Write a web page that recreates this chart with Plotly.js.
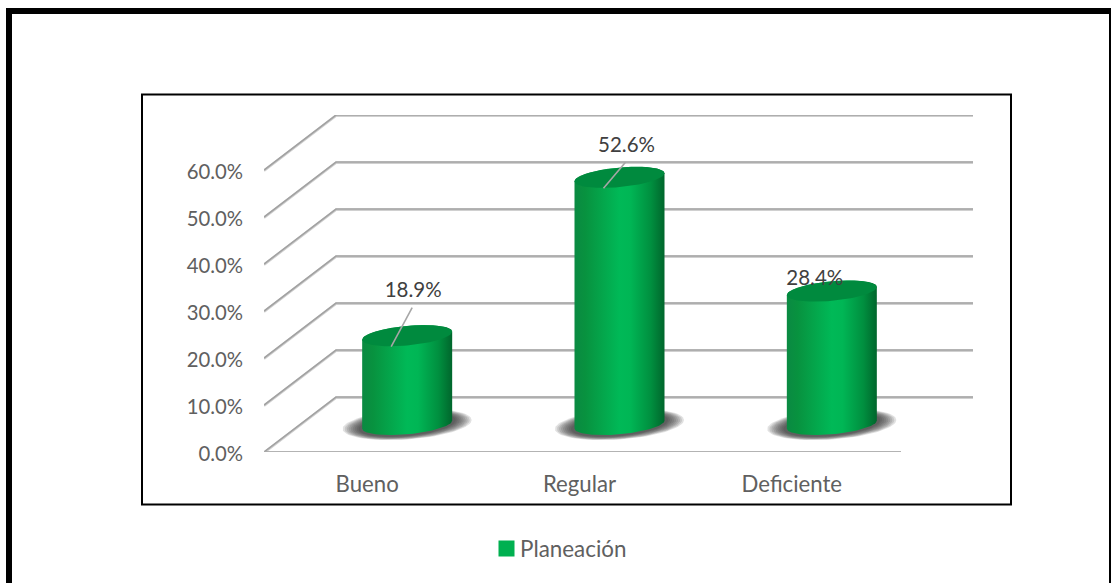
<!DOCTYPE html>
<html>
<head>
<meta charset="utf-8">
<script src="https://cdn.plot.ly/plotly-3.0.1.min.js"></script>
<style>html,body{margin:0;padding:0;background:#fff;overflow:hidden}</style>
</head>
<body>
<div id="chart" style="width:1111px;height:583px"></div>
<script>
// Chart data
const categories = ['Bueno', 'Regular', 'Deficiente'];
const seriesName = 'Planeación';
const values = [18.9, 52.6, 28.4];
const yTicks = [0, 10, 20, 30, 40, 50, 60];
const yTickText = ['0.0%', '10.0%', '20.0%', '30.0%', '40.0%', '50.0%', '60.0%'];

// Hand placement of the data labels relative to each column top, in pixels
const labelShiftX = [6, 7, -17];
const labelShiftY = [44, 30, 11];
const leaderShiftY = [28, 15, 0];
const hasLeader = [true, true, false];

// Plot geometry in pixels
const plotLeft = 264, plotBottom = 452, plotRight = 973, plotTop = 115;
const pxPerCategory = 637 / 3;
const pxPerPercent = 4.7;
const depthPxX = 72, depthPxY = 55;

const W = 1111, H = 583;
const ux = px => px / pxPerCategory;
const uy = px => px / pxPerPercent;
const xMin = -0.5, xMax = xMin + ux(plotRight - plotLeft);
const yMin = 0, yMax = uy(plotBottom - plotTop);
const paperX = px => (px - plotLeft) / (plotRight - plotLeft);
const paperY = py => (plotBottom - py) / (plotBottom - plotTop);

const textColor = '#606060';
const fontFamily = 'Lato, sans-serif';

const traces = [];

// Every frame line is a pale under-stroke with a darker core on top
function frameLine(xs, ys) {
  [{off: -0.8, color: '#d0d0d0', width: 2.4}, {off: 0, color: '#a2a2a2', width: 1.6}].forEach(s => {
    traces.push({
      x: xs, y: ys.map(y => y + uy(s.off)),
      mode: 'lines', line: {color: s.color, width: s.width},
      showlegend: false, hoverinfo: 'skip', cliponaxis: false
    });
  });
}

// Side walls and back wall of the 3D frame
yTicks.forEach(v => {
  frameLine([xMin, xMin + ux(depthPxX), xMax], [v, v + uy(depthPxY), v + uy(depthPxY)]);
});
// Front edge of the floor
frameLine([xMin, xMax - ux(depthPxX)], [0, 0]);

// Skewed ellipse outline around (cx, cy), using pixel radii
function ellipse(cx, cy, a, b, skew, from, to, n) {
  const xs = [], ys = [];
  for (let i = 0; i <= n; i++) {
    const t = from + (to - from) * i / n;
    xs.push(cx + ux(a * Math.cos(t)));
    ys.push(cy + uy(skew * Math.cos(t) + b * Math.sin(t)));
  }
  return {xs, ys};
}

const radiusX = 45, radiusY = 9.8, skew = 4;
const baseX = ux(depthPxX / 2 + 1), baseY = uy(depthPxY / 2);

// Soft ground shadows, built up from nested translucent ellipses
const shadowSteps = 9;
values.forEach((v, i) => {
  for (let s = 0; s < shadowSteps; s++) {
    const k = s / (shadowSteps - 1);
    const e = ellipse(i + baseX, baseY, 64.5 - 16 * k, 15 - 3.5 * k, 4.5, 0, 2 * Math.PI, 72);
    traces.push({
      x: e.xs, y: e.ys, mode: 'lines', line: {width: 0}, fill: 'toself',
      fillcolor: 'rgba(40,40,40,0.14)',
      showlegend: false, hoverinfo: 'skip', cliponaxis: false
    });
  }
});

// Cylinder bodies and lids
values.forEach((v, i) => {
  const cx = i + baseX, top = v + baseY;
  const low = ellipse(cx, baseY, radiusX, radiusY, skew, Math.PI, 2 * Math.PI, 48);
  const up = ellipse(cx, top, radiusX, radiusY, skew, 0, Math.PI, 48);
  traces.push({
    x: low.xs.concat(up.xs), y: low.ys.concat(up.ys),
    mode: 'lines', line: {width: 0}, fill: 'toself',
    fillgradient: {type: 'horizontal', colorscale: [
      [0, '#0a8a42'], [0.12, '#08923f'], [0.5, '#00b957'], [0.62, '#00b655'], [0.85, '#008f3f'], [1, '#00662c']
    ]},
    showlegend: false, hoverinfo: 'skip', cliponaxis: false
  });
  const lid = ellipse(cx, top, radiusX, radiusY, skew, 0, 2 * Math.PI, 72);
  traces.push({
    x: lid.xs, y: lid.ys, mode: 'lines', line: {width: 0}, fill: 'toself',
    fillcolor: '#008a3e',
    showlegend: false, hoverinfo: 'skip', cliponaxis: false
  });
});

// Leader lines
values.forEach((v, i) => {
  if (!hasLeader[i]) return;
  const cx = i + baseX, top = v + baseY;
  traces.push({
    x: [cx + ux(-16), cx + ux(labelShiftX[i] - 1)],
    y: [top - uy(11), top + uy(leaderShiftY[i])],
    mode: 'lines', line: {color: '#a6a6a6', width: 1.6},
    showlegend: false, hoverinfo: 'skip', cliponaxis: false
  });
});

// Data labels
traces.push({
  x: values.map((v, i) => i + baseX + ux(labelShiftX[i])),
  y: values.map((v, i) => v + baseY + uy(labelShiftY[i])),
  text: values.map(v => v.toFixed(1) + '%'),
  mode: 'text', textposition: 'middle center',
  textfont: {family: fontFamily, size: 20.5, color: '#404040'},
  showlegend: false, hoverinfo: 'skip', cliponaxis: false
});

// Series entry for the legend
traces.push({
  x: [null], y: [null], name: seriesName, mode: 'markers',
  marker: {symbol: 'square', size: 16, color: '#00b050'},
  hoverinfo: 'skip'
});

const layout = {
  width: W, height: H,
  paper_bgcolor: '#fff', plot_bgcolor: 'rgba(0,0,0,0)',
  margin: {l: plotLeft, r: W - plotRight, t: plotTop, b: H - plotBottom, pad: 0, autoexpand: false},
  font: {family: fontFamily, size: 20, color: textColor},
  showlegend: true,
  legend: {
    x: paperX(494), y: paperY(527.5), xanchor: 'left', yanchor: 'top', indentation: -14,
    bgcolor: 'rgba(0,0,0,0)', font: {family: fontFamily, size: 22.4, color: textColor}
  },
  xaxis: {
    range: [xMin, xMax], tickmode: 'array', tickvals: categories.map((c, i) => i), ticktext: categories,
    tickfont: {family: fontFamily, size: 22.2, color: textColor},
    showgrid: false, zeroline: false, showline: false, ticks: '', ticklabelstandoff: 17,
    ticklabelshift: -3, fixedrange: true
  },
  yaxis: {
    range: [yMin, yMax], tickmode: 'array', tickvals: yTicks, ticktext: yTickText,
    tickfont: {family: fontFamily, size: 20.3, color: textColor},
    showgrid: false, zeroline: false, showline: false, ticks: '', ticklabelstandoff: 20,
    fixedrange: true
  },
  shapes: [
    // Outer page frame
    {type: 'rect', xref: 'paper', yref: 'paper', x0: paperX(9), x1: paperX(1112), y0: paperY(11), y1: paperY(620),
     line: {color: '#000', width: 6}, layer: 'below'},
    // Chart area frame
    {type: 'rect', xref: 'paper', yref: 'paper', x0: paperX(142), x1: paperX(1011), y0: paperY(94.5), y1: paperY(504.5),
     line: {color: '#000', width: 2}, layer: 'below'}
  ]
};

Plotly.newPlot('chart', traces, layout, {displayModeBar: false, responsive: false}).then(gd => {
  // Tighten the gap between the legend swatch and its text
  const swatch = gd.querySelector('.legend .legendsymbols');
  if (swatch) swatch.setAttribute('transform', 'translate(6.5,0)');
  // Nudge the value axis labels down onto the front ends of the wall lines
  const yLabels = gd.querySelector('.yaxislayer-above');
  if (yLabels) yLabels.setAttribute('transform', 'translate(0,2)');
});
</script>
</body>
</html>
